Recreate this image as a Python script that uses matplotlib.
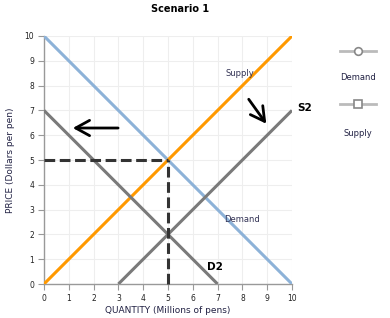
import matplotlib
matplotlib.use("Agg")
import matplotlib.pyplot as plt
from matplotlib.lines import Line2D

# Data
demand_x = [0, 10]
demand_y = [10, 0]
supply_x = [0, 10]
supply_y = [0, 10]
d2_x = [0, 7]
d2_y = [7, 0]
s2_x = [3, 10]
s2_y = [0, 7]
eq_q = 5
eq_p = 5
ticks = list(range(0, 11))

fig = plt.figure(figsize=(3.9, 3.18), dpi=100)
ax = fig.add_axes([0.1128, 0.1069, 0.6359, 0.7799])
ax.set_xlim(0, 10)
ax.set_ylim(0, 10)

ax.set_xticks(ticks)
ax.set_yticks(ticks)
ax.tick_params(labelsize=5.5, length=4, width=0.8, color="#999999", pad=3, labelcolor="#222222")
ax.grid(True, color="#eeeeee", linewidth=0.8)
ax.set_axisbelow(True)
for s in ["top", "right"]:
    ax.spines[s].set_visible(False)
for s in ["left", "bottom"]:
    ax.spines[s].set_color("#999999")
    ax.spines[s].set_linewidth(1.0)

lw = 2.2
ax.plot(demand_x, demand_y, color="#8db2d8", lw=lw, solid_capstyle="butt", zorder=3)
ax.plot(supply_x, supply_y, color="#ff9900", lw=lw, solid_capstyle="butt", zorder=3)
ax.plot(d2_x, d2_y, color="#7a7a7a", lw=lw, solid_capstyle="butt", zorder=3)
ax.plot(s2_x, s2_y, color="#7a7a7a", lw=lw, solid_capstyle="butt", zorder=3)

ax.plot([0, eq_q], [eq_p, eq_p], color="#333333", lw=2.2, ls=(0, (3.5, 1.5)), zorder=4, clip_on=False)
ax.plot([eq_q, eq_q], [0, eq_p], color="#333333", lw=2.2, ls=(0, (3.5, 1.5)), zorder=4, clip_on=False)

# hand-drawn arrows
ax.annotate("", xy=(1.05, 6.29), xytext=(3.1, 6.29),
            arrowprops=dict(arrowstyle="->,head_length=1.0,head_width=0.55", color="black", lw=2.0))
ax.annotate("", xy=(9.03, 6.37), xytext=(8.19, 7.54),
            arrowprops=dict(arrowstyle="->,head_length=1.0,head_width=0.55", color="black", lw=2.0))

ax.text(7.9, 8.5, "Supply", fontsize=6, color="#333355", ha="center", va="center")
ax.text(8.0, 2.6, "Demand", fontsize=6, color="#333355", ha="center", va="center")
ax.text(10.2, 7.1, "S2", fontsize=7.5, fontweight="bold", color="black", ha="left", va="center", clip_on=False)
ax.text(6.9, 0.7, "D2", fontsize=7.5, fontweight="bold", color="black", ha="center", va="center")

ax.set_xlabel("QUANTITY (Millions of pens)", fontsize=6.5, color="#222244", labelpad=2)
ax.set_ylabel("PRICE (Dollars per pen)", fontsize=6.5, color="#222244", labelpad=7)

fig.text(0.4615, 0.972, "Scenario 1", fontsize=7, fontweight="bold", ha="center", va="center")

# legend at right
legend_items = [("Demand", "o", 318 - 51, 318 - 78), ("Supply", "s", 318 - 104, 318 - 133)]
for label, marker, ly, ty in legend_items:
    fig.add_artist(Line2D([340 / 390, 376 / 390], [ly / 318, ly / 318], color="#bbbbbb", lw=2.0))
    fig.add_artist(Line2D([358 / 390], [ly / 318], marker=marker, markersize=5.5,
                          markerfacecolor="white", markeredgecolor="#888888", markeredgewidth=1.2, lw=0))
    fig.text(358 / 390, ty / 318, label, fontsize=6, color="#222244", ha="center", va="center")

fig.savefig("out.png", dpi=100)
